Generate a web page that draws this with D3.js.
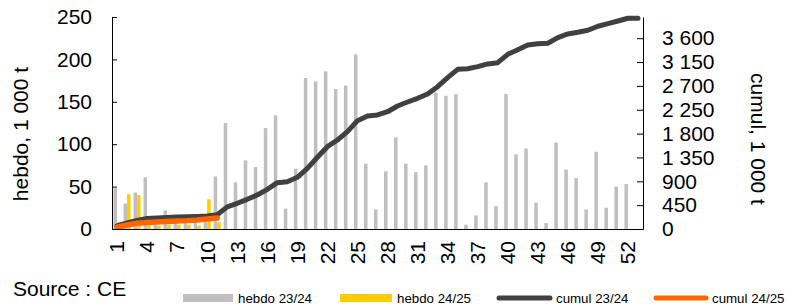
<!DOCTYPE html>
<html><head><meta charset="utf-8">
<script src="https://cdn.jsdelivr.net/npm/d3@7/dist/d3.min.js"></script>
<style>
html,body{margin:0;padding:0;background:#fff;}
svg{display:block;font-family:"Liberation Sans",Arial,sans-serif;}
</style></head>
<body><svg id="c" width="787" height="307"></svg>
<script>
const weeks = [1,2,3,4,5,6,7,8,9,10,11,12,13,14,15,16,17,18,19,20,21,22,23,24,25,26,27,28,29,30,31,32,33,34,35,36,37,38,39,40,41,42,43,44,45,46,47,48,49,50,51,52,53];
const hebdo2324 = [48,30,43,61,10,22,9,9,17,11,62,125,55,81,73,119,134,24,71,178,174,186,165,169,206,77,23,68,108,77,67,75,161,157,159,5,16,55,27,159,88,95,31,7,102,70,60,23,91,25,50,53,null];
const hebdo2425 = [8,41,40,5,4,5,5,5,4,35,8];
const cumul2324 = [57,113,160,198,208,217,226,230,236,245,270,418,485,560,642,749,874,893,975,1145,1353,1553,1679,1836,2044,2132,2151,2213,2321,2396,2466,2547,2685,2855,3013,3025,3063,3114,3138,3296,3384,3472,3495,3505,3610,3680,3712,3749,3825,3874,3925,3976,3976];
const cumul2425 = [34,75,107,123,132,141,151,158,170,189,208];
const leftTicks = [0,50,100,150,200,250];
const rightTicks = [0,450,900,1350,1800,2250,2700,3150,3600];
const xLabels = [1,4,7,10,13,16,19,22,25,28,31,34,37,40,43,46,49,52];
const seriesNames = ["hebdo 23/24","hebdo 24/25","cumul 23/24","cumul 24/25"];
const colors = {gray:"#bfbfbf", yellow:"#ffcc00", dark:"#404040", orange:"#ff6600"};

const L=112, R=643, T=17, B=229;
const svg = d3.select("#c");
const x = d3.scaleBand().domain(weeks).range([L,R]).paddingInner(0).paddingOuter(0);
const x1 = d3.scaleBand().domain(["a","b"]).range([0,x.bandwidth()]).paddingInner(0).paddingOuter(0.43);
const yL = d3.scaleLinear().domain([0,250]).range([B,T]);
const yR = d3.scaleLinear().domain([0,4000]).range([B,T]);
const cx = w => x(w) + x.bandwidth()/2;

// bars
svg.append("g").selectAll("rect").data(weeks.map((w,i)=>({w,v:hebdo2324[i]})).filter(d=>d.v!=null))
  .join("rect").attr("x",d=>x(d.w)+x1("a")).attr("width",x1.bandwidth())
  .attr("y",d=>yL(d.v)).attr("height",d=>B-yL(d.v)).attr("fill",colors.gray);
svg.append("g").selectAll("rect").data(hebdo2425.map((v,i)=>({w:weeks[i],v})))
  .join("rect").attr("x",d=>x(d.w)+x1("b")).attr("width",x1.bandwidth())
  .attr("y",d=>yL(d.v)).attr("height",d=>B-yL(d.v)).attr("fill",colors.yellow);

// lines
const line = d3.line().x(d=>cx(d.w)).y(d=>yR(d.v));
svg.append("path").datum(cumul2324.map((v,i)=>({w:weeks[i],v})))
  .attr("d",line).attr("fill","none").attr("stroke",colors.dark).attr("stroke-width",5)
  .attr("stroke-linejoin","round").attr("stroke-linecap","round");
svg.append("path").datum(cumul2425.map((v,i)=>({w:weeks[i],v})))
  .attr("d",line).attr("fill","none").attr("stroke",colors.orange).attr("stroke-width",5.5)
  .attr("stroke-linejoin","round").attr("stroke-linecap","round");

// axes
const fs = 21;
const axL = svg.append("g").attr("transform",`translate(${L},0)`)
  .call(d3.axisLeft(yL).tickValues(leftTicks).tickSizeInner(-5).tickSizeOuter(0).tickPadding(20));
const axR = svg.append("g").attr("transform",`translate(${R},0)`)
  .call(d3.axisRight(yR).tickValues(rightTicks).tickSizeInner(-6).tickSizeOuter(0).tickPadding(19)
  .tickFormat(d=>d3.format(",")(d).replace(/,/g," ")));
const axB = svg.append("g").attr("transform",`translate(0,${B})`)
  .call(d3.axisBottom(x).tickValues(xLabels).tickSize(0).tickPadding(0));
[axL,axR,axB].forEach(g=>{
  g.selectAll(".domain").attr("stroke","#000").attr("stroke-width",1);
  g.selectAll(".tick line").attr("stroke","#000");
  g.selectAll("text").attr("font-size",fs).attr("fill","#000").attr("font-family","Liberation Sans, Arial, sans-serif");
});
axB.selectAll(".tick text").attr("text-anchor","end").attr("dy","0.35em")
  .attr("transform","translate(0,12) rotate(-90)").attr("y",0).attr("x",0);
svg.append("line").attr("x1",L).attr("x2",R).attr("y1",B+0.5).attr("y2",B+0.5).attr("stroke","#000");

// axis titles
svg.append("text").attr("transform","translate(21,134) rotate(-90)").attr("text-anchor","middle")
  .attr("dy","0.35em").attr("font-size",fs).text("hebdo, 1 000 t");
svg.append("text").attr("transform","translate(758,139) rotate(90)").attr("text-anchor","middle")
  .attr("dy","0.35em").attr("font-size",fs).text("cumul, 1 000 t");

// source
svg.append("text").attr("x",13).attr("y",296).attr("font-size",fs).text("Source : CE");

// legend
const lg = svg.append("g").attr("font-size",13.3);
const ly = 298;
const items = [
  {n:seriesNames[0], type:"rect", c:colors.gray, x0:183, x1:233, tx:238},
  {n:seriesNames[1], type:"rect", c:colors.yellow, x0:340, x1:392, tx:397},
  {n:seriesNames[2], type:"line", c:colors.dark, x0:497, x1:552, tx:556},
  {n:seriesNames[3], type:"line", c:colors.orange, x0:654, x1:708, tx:712}
];
items.forEach(it=>{
  if(it.type==="rect") lg.append("rect").attr("x",it.x0).attr("y",ly-4).attr("width",it.x1-it.x0).attr("height",8).attr("fill",it.c);
  else lg.append("line").attr("x1",it.x0+2).attr("x2",it.x1-2).attr("y1",ly).attr("y2",ly).attr("stroke",it.c).attr("stroke-width",5).attr("stroke-linecap","round");
  lg.append("text").attr("x",it.tx).attr("y",ly).attr("dy","0.35em").text(it.n);
});
</script></body></html>
